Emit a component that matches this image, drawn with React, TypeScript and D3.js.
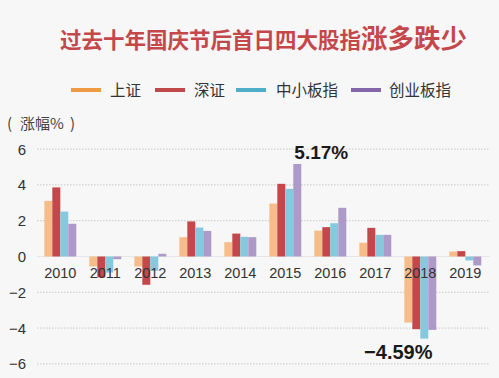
import React from "react";
import * as d3 from "d3";

const years = ["2010", "2011", "2012", "2013", "2014", "2015", "2016", "2017", "2018", "2019"];
const seriesNames = ["上证", "深证", "中小板指", "创业板指"];
const shanghai = [3.11, -0.56, -0.56, 1.08, 0.8, 2.96, 1.45, 0.77, -3.69, 0.28];
const shenzhen = [3.86, -1.17, -1.58, 1.96, 1.28, 4.06, 1.64, 1.6, -4.06, 0.3];
const smeBoard = [2.51, -0.9, -0.8, 1.62, 1.1, 3.78, 1.86, 1.21, -4.59, -0.22];
const chinext = [1.83, -0.15, 0.15, 1.43, 1.08, 5.17, 2.72, 1.21, -4.1, -0.5];
const yTicks = [6, 4, 2, 0, -2, -4, -6];
const barColors = ["#F6BD8B", "#C3474B", "#86C9DE", "#AD9AC8"];
const legendColors = ["#F19A45", "#C04848", "#4FAFC9", "#8467A8"];

const W = 499;
const H = 378;
const CJK = "'Noto Sans CJK SC', 'Noto Sans', sans-serif";
const NUM = "'Liberation Sans', Arial, sans-serif";

export default function App() {
  const allSeries = [shanghai, shenzhen, smeBoard, chinext];
  const y = d3.scaleLinear().domain([-6, 6]).range([363.9, 149.1]);
  const x0 = d3.scaleBand<string>().domain(years).range([37.8, 487.8]).paddingInner(0.29).paddingOuter(0.145);
  const x1 = d3.scaleBand<number>().domain([0, 1, 2, 3]).range([0, x0.bandwidth()]);

  const legendItems = [
    { lx: 71, tx: 110 },
    { lx: 155, tx: 194 },
    { lx: 236, tx: 276 },
    { lx: 351, tx: 389 },
  ];

  const peak = 5.17;
  const trough = -4.59;

  return (
    <svg width={W} height={H} style={{ position: "absolute", left: 0, top: 0, background: "#F7F7F7" }}>
      <rect x={0} y={0} width={W} height={H} fill="#F7F7F7" />
      <text x={60} y={48} fontFamily={CJK} fontWeight={700} fill="#C4474B">
        <tspan fontSize={21.5}>过去十年国庆节后首日四大股指</tspan>
        <tspan fontSize={26.5}>涨多跌少</tspan>
      </text>
      {seriesNames.map((n, i) => (
        <g key={n}>
          <line x1={legendItems[i].lx} x2={legendItems[i].lx + 30} y1={90} y2={90} stroke={legendColors[i]} strokeWidth={4} />
          <text x={legendItems[i].tx} y={95.5} fontFamily={CJK} fontSize={15.5} fill="#333">{n}</text>
        </g>
      ))}
      <g fontFamily={CJK} fontSize={15} fill="#444">
        <text x={7} y={129}>(</text>
        <text x={20} y={129}>涨幅%</text>
        <text x={70} y={129}>)</text>
      </g>
      {yTicks.map((t) => (
        <g key={t}>
          {t !== 0 ? (
            <line x1={37} x2={490} y1={y(t)} y2={y(t)} stroke="#C8C8C8" strokeDasharray="1.5,1.5" strokeWidth={1} />
          ) : (
            <line x1={37} x2={490} y1={y(t)} y2={y(t)} stroke="#E6E6E6" strokeWidth={1} />
          )}
          <text x={26} y={y(t)} dy="0.36em" textAnchor="end" fontFamily={NUM} fontSize={15} fill="#333">
            {t < 0 ? "−" + Math.abs(t) : t}
          </text>
        </g>
      ))}
      {years.map((yr, yi) => (
        <g key={yr} transform={`translate(${x0(yr)},0)`}>
          {allSeries.map((s, si) => {
            const v = s[yi];
            return (
              <rect
                key={si}
                x={x1(si)}
                width={x1.bandwidth()}
                y={Math.min(y(v), y(0))}
                height={Math.abs(y(v) - y(0))}
                fill={barColors[si]}
              />
            );
          })}
        </g>
      ))}
      {years.map((yr) => (
        <text key={yr} x={(x0(yr) as number) + x0.bandwidth() / 2} y={273} dy="0.36em" textAnchor="middle" fontFamily={NUM} fontSize={14.5} fill="#333">
          {yr}
        </text>
      ))}
      <text x={(x0("2015") as number) + x0.bandwidth() / 2 + 36} y={y(peak) - 4.5} textAnchor="middle" fontFamily={NUM} fontWeight={700} fontSize={19} fill="#1a1a1a">
        {peak.toFixed(2)}%
      </text>
      <text x={(x0("2018") as number) + x0.bandwidth() / 2 - 22} y={y(trough) + 20.5} textAnchor="middle" fontFamily={NUM} fontWeight={700} fontSize={20} fill="#1a1a1a">
        {"−" + Math.abs(trough).toFixed(2)}%
      </text>
    </svg>
  );
}
